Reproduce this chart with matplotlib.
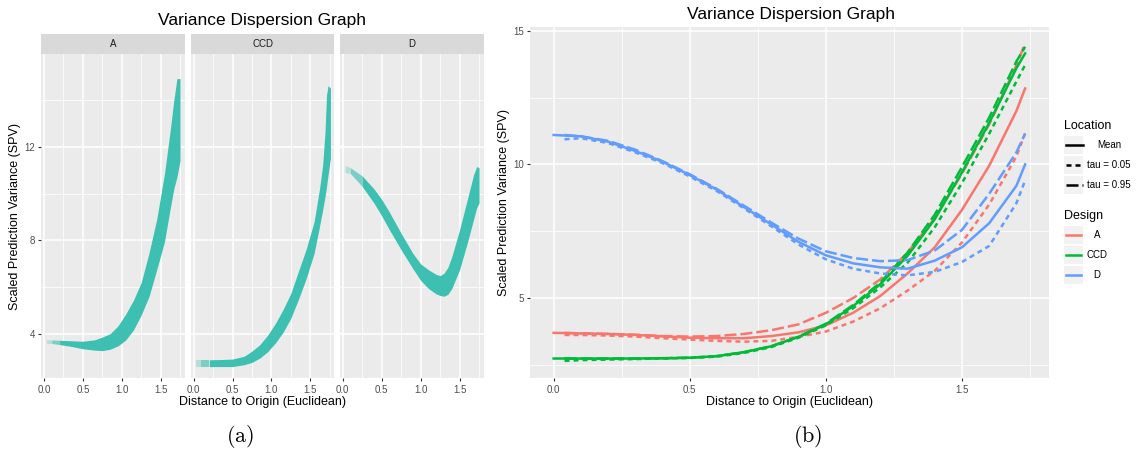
import numpy as np
import matplotlib
matplotlib.use("Agg")
import matplotlib.pyplot as plt
from matplotlib.lines import Line2D
from matplotlib.patches import Rectangle

plt.rcParams['font.family'] = ['Liberation Sans', 'DejaVu Sans']
plt.rcParams['mathtext.fontset'] = 'cm'

W, H = 1137, 455

# ---------- panel (a): extent of the SPV point cloud in each facet ----------
facets = ["A", "CCD", "D"]

a_x = [0.03, 0.10, 0.20, 0.35, 0.50, 0.65, 0.75, 0.85, 0.95, 1.05, 1.15, 1.25,
       1.35, 1.45, 1.55, 1.62, 1.67, 1.71, 1.75]
a_hi = [3.76, 3.76, 3.74, 3.72, 3.70, 3.76, 3.88, 4.02, 4.35, 4.85, 5.45, 6.20,
        7.45, 8.90, 10.85, 12.60, 13.97, 14.90, 14.90]
a_lo = [3.62, 3.60, 3.56, 3.48, 3.38, 3.32, 3.30, 3.36, 3.50, 3.75, 4.18, 4.82,
        5.60, 6.75, 7.95, 9.30, 10.20, 10.71, 11.40]

ccd_x = [0.03, 0.10, 0.20, 0.35, 0.50, 0.65, 0.75, 0.85, 0.95, 1.05, 1.15, 1.25,
         1.35, 1.45, 1.55, 1.62, 1.66, 1.69, 1.71, 1.73, 1.76]
ccd_hi = [2.91, 2.91, 2.91, 2.92, 2.94, 3.06, 3.28, 3.55, 3.95, 4.45, 5.05, 5.74,
          6.70, 7.65, 8.80, 10.20, 11.20, 12.60, 14.20, 14.60, 14.50]
ccd_lo = [2.62, 2.62, 2.62, 2.62, 2.62, 2.70, 2.80, 2.98, 3.25, 3.62, 4.08, 4.68,
          5.50, 6.40, 7.45, 8.60, 9.30, 9.86, 10.30, 10.80, 11.50]

d_x = [0.03, 0.10, 0.25, 0.40, 0.50, 0.60, 0.75, 0.90, 1.00, 1.10, 1.20, 1.25,
       1.30, 1.35, 1.40, 1.50, 1.60, 1.68, 1.72, 1.75]
d_hi = [11.20, 11.10, 10.75, 10.20, 9.75, 9.20, 8.30, 7.45, 7.00, 6.75, 6.55, 6.50,
        6.60, 6.85, 7.30, 8.45, 9.75, 10.80, 11.15, 11.10]
d_lo = [10.90, 10.85, 10.30, 9.60, 9.05, 8.45, 7.60, 6.80, 6.30, 5.95, 5.72, 5.65,
        5.62, 5.70, 5.95, 6.75, 7.90, 8.90, 9.40, 9.60]

clouds = {"A": (a_x, a_lo, a_hi), "CCD": (ccd_x, ccd_lo, ccd_hi), "D": (d_x, d_lo, d_hi)}

# ---------- panel (b): mean and quantile SPV curves ----------
mean_x = [0.0, 0.1, 0.2, 0.3, 0.4, 0.5, 0.6, 0.7, 0.8, 0.9, 1.0, 1.1, 1.2, 1.3,
          1.4, 1.5, 1.6, 1.7, 1.732]
q_x = [0.04, 0.1, 0.2, 0.3, 0.4, 0.5, 0.6, 0.7, 0.8, 0.9, 1.0, 1.1, 1.2, 1.3,
       1.4, 1.5, 1.6, 1.7, 1.732]

A_mean = [3.70, 3.68, 3.66, 3.62, 3.57, 3.52, 3.50, 3.50, 3.58, 3.72, 3.98, 4.45,
          5.08, 5.92, 6.90, 8.30, 9.95, 12.0, 12.84]
A_q05 = [3.62, 3.62, 3.60, 3.56, 3.50, 3.45, 3.40, 3.37, 3.40, 3.55, 3.75, 4.12,
         4.62, 5.28, 6.02, 7.08, 8.50, 10.3, 11.16]
A_q95 = [3.70, 3.68, 3.66, 3.63, 3.58, 3.56, 3.58, 3.66, 3.80, 4.02, 4.45, 5.00,
         5.70, 6.70, 8.00, 9.65, 11.5, 13.7, 14.53]

CCD_mean = [2.74, 2.74, 2.74, 2.74, 2.75, 2.77, 2.83, 2.98, 3.20, 3.55, 4.02, 4.70,
            5.52, 6.58, 7.95, 9.70, 11.55, 13.6, 14.15]
CCD_q05 = [2.65, 2.68, 2.70, 2.72, 2.74, 2.76, 2.81, 2.95, 3.17, 3.52, 3.98, 4.62,
           5.40, 6.32, 7.65, 9.30, 11.15, 13.1, 13.72]
CCD_q95 = [2.74, 2.74, 2.74, 2.74, 2.75, 2.77, 2.83, 2.98, 3.20, 3.56, 4.04, 4.74,
           5.58, 6.70, 8.12, 9.90, 11.75, 13.85, 14.40]

D_mean = [11.10, 11.05, 10.85, 10.50, 10.10, 9.60, 9.05, 8.40, 7.75, 7.10, 6.60,
          6.30, 6.15, 6.10, 6.40, 6.90, 7.80, 9.20, 10.0]
D_q05 = [10.94, 10.98, 10.80, 10.45, 10.05, 9.55, 9.00, 8.35, 7.68, 7.00, 6.45,
         6.10, 5.92, 5.85, 5.98, 6.35, 6.95, 8.55, 9.40]
D_q95 = [11.10, 11.05, 10.88, 10.55, 10.12, 9.63, 9.08, 8.45, 7.82, 7.22, 6.75,
         6.50, 6.38, 6.42, 6.78, 7.55, 8.90, 10.45, 11.15]

designs = ["A", "CCD", "D"]
design_cols = {"A": "#F8766D", "CCD": "#00BA38", "D": "#619CFF"}
curves = {"A": (A_mean, A_q05, A_q95), "CCD": (CCD_mean, CCD_q05, CCD_q95),
          "D": (D_mean, D_q05, D_q95)}
loc_labels = ["Mean", "tau = 0.05", "tau = 0.95"]
loc_styles = ["-", (0, (2.0, 1.6)), (0, (4.8, 1.6))]

TEAL = "#3dbfb1"
LW = 1.8


def rect(x0, y0, x1, y1):
    return [x0 / W, 1 - y1 / H, (x1 - x0) / W, (y1 - y0) / H]


def style(ax, xmaj, xmin, ymaj, ymin):
    ax.set_facecolor("#ebebeb")
    for s in ax.spines.values():
        s.set_visible(False)
    ax.set_xticks(xmaj)
    ax.set_xticks(xmin, minor=True)
    ax.set_yticks(ymaj)
    ax.set_yticks(ymin, minor=True)
    ax.grid(which="major", color="white", lw=1.1)
    ax.grid(which="minor", color="white", lw=0.55)
    ax.tick_params(which="major", length=2.5, width=0.8, color="#333333",
                   labelsize=7, labelcolor="#4d4d4d", pad=2)
    ax.tick_params(which="minor", length=0)
    ax.set_axisbelow(True)


fig = plt.figure(figsize=(W / 100, H / 100), dpi=100)

# ----- panel (a) -----
facet_px = [(41.3, 184.7), (191.0, 334.3), (340.0, 483.7)]
for i, name in enumerate(facets):
    x0, x1 = facet_px[i]
    ax = fig.add_axes(rect(x0, 54, x1, 378.3))
    style(ax, [0, 0.5, 1.0, 1.5], [0.25, 0.75, 1.25, 1.75], [4, 8, 12], [6, 10, 14])
    ax.set_xticklabels(["0.0", "0.5", "1.0", "1.5"])
    ax.set_xlim(-0.035, 1.81)
    ax.set_ylim(2.12, 15.95)
    if i == 0:
        ax.set_yticklabels(["4", "8", "12"])
    else:
        ax.tick_params(axis="y", which="both", length=0, labelleft=False)
    cx, lo, hi = (np.asarray(v) for v in clouds[name])
    # sparse points at the start of the curve look faded
    ax.fill_between(cx[:2], lo[:2], hi[:2], color=TEAL, alpha=0.3, lw=0)
    ax.fill_between(cx[1:3], lo[1:3], hi[1:3], color=TEAL, alpha=0.65, lw=0)
    ax.fill_between(cx[2:], lo[2:], hi[2:], color=TEAL, alpha=1.0, lw=0)

    sax = fig.add_axes(rect(x0, 34, x1, 54))
    sax.set_facecolor("#d9d9d9")
    sax.set_xticks([])
    sax.set_yticks([])
    for s in sax.spines.values():
        s.set_visible(False)
    sax.text(0.5, 0.5, name, ha="center", va="center", fontsize=7, color="#1a1a1a")

fig.text(262 / W, 1 - 20.5 / H, "Variance Dispersion Graph", ha="center", va="center",
         fontsize=12.5)
fig.text(262.5 / W, 1 - 401.5 / H, "Distance to Origin (Euclidean)", ha="center",
         va="center", fontsize=9)
fig.text(15 / W, 1 - 216 / H, "Scaled Prediction Variance (SPV)", ha="center",
         va="center", rotation=90, fontsize=9)
fig.text(240 / W, 1 - 437 / H, r"$\mathrm{(a)}$", ha="center", va="center", fontsize=16)

# ----- panel (b) -----
bx = fig.add_axes(rect(530, 26.7, 1048.8, 378.3))
style(bx, [0, 0.5, 1.0, 1.5], [0.25, 0.75, 1.25, 1.75], [5, 10, 15], [2.5, 7.5, 12.5])
bx.set_xticklabels(["0.0", "0.5", "1.0", "1.5"])
bx.set_yticklabels(["5", "10", "15"])
bx.set_xlim(-0.087, 1.819)
bx.set_ylim(2.0, 15.15)
for d in designs:
    mean, q05, q95 = curves[d]
    c = design_cols[d]
    bx.plot(mean_x, mean, color=c, lw=LW, ls=loc_styles[0])
    bx.plot(q_x, q05, color=c, lw=LW, ls=loc_styles[1])
    bx.plot(q_x, q95, color=c, lw=LW, ls=loc_styles[2])

fig.text(791 / W, 1 - 14 / H, "Variance Dispersion Graph", ha="center", va="center",
         fontsize=12.5)
fig.text(789.4 / W, 1 - 401.5 / H, "Distance to Origin (Euclidean)", ha="center",
         va="center", fontsize=9)
fig.text(504.5 / W, 1 - 202.5 / H, "Scaled Prediction Variance (SPV)", ha="center",
         va="center", rotation=90, fontsize=9)
fig.text(808 / W, 1 - 437 / H, r"$\mathrm{(b)}$", ha="center", va="center", fontsize=16)

# ----- legends (drawn in pixel space) -----
lax = fig.add_axes([0, 0, 1, 1])
lax.set_xlim(0, W)
lax.set_ylim(H, 0)
lax.axis("off")

lax.text(1064, 126, "Location", fontsize=9, va="center", ha="left")
for k, (lab, ls) in enumerate(zip(loc_labels, loc_styles)):
    y0 = 136 + 20 * k
    lax.add_patch(Rectangle((1064.3, y0), 18.3, 18, color="#f2f2f2", lw=0))
    lax.add_line(Line2D([1065.5, 1083], [y0 + 9, y0 + 9], color="black", lw=LW, ls=ls))
    lax.text(1109, y0 + 9.5, lab, fontsize=7, ha="center", va="center")

lax.text(1064, 215.7, "Design", fontsize=9, va="center", ha="left")
for k, d in enumerate(designs):
    y0 = 226 + 20 * k
    lax.add_patch(Rectangle((1064.3, y0), 18.3, 18, color="#f2f2f2", lw=0))
    lax.add_line(Line2D([1066, 1081], [y0 + 9, y0 + 9], color=design_cols[d], lw=LW))
    lax.text(1097, y0 + 9.5, d, fontsize=7, ha="center", va="center")

fig.savefig("out.png", dpi=100)
